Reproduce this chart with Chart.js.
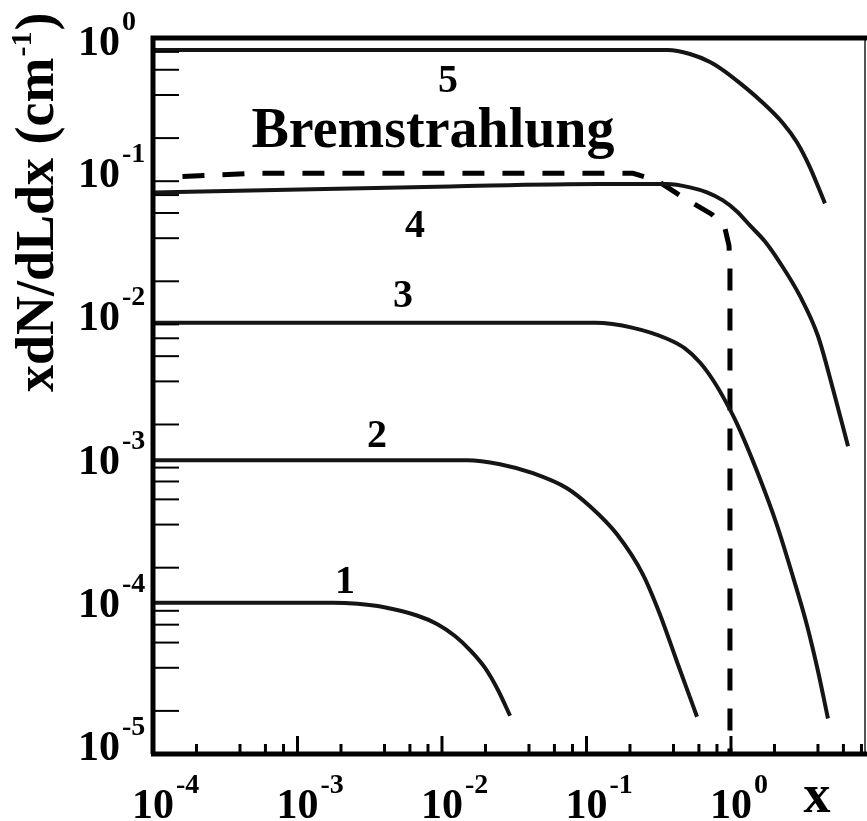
<!DOCTYPE html>
<html>
<head>
<meta charset="utf-8">
<script src="https://cdn.jsdelivr.net/npm/chart.js@4.4.0/dist/chart.umd.min.js"></script>
<style>
  html, body { margin: 0; padding: 0; background: #fff; }
</style>
</head>
<body>
<canvas id="graphics" width="867" height="821"></canvas>
<script>
// values (x, xdN/dLdx)
const curve1X = [1e-4, 1.76e-3, 2.6e-3, 3.91e-3, 6.71e-3, 9.23e-3, 0.0123, 0.01563, 0.01986, 0.0244, 0.0296];
const curve1Y = [1.14e-4, 1.14e-4, 1.12e-4, 1.063e-4, 9.27e-5, 8.09e-5, 6.67e-5, 5.32e-5, 3.99e-5, 2.80e-5, 1.85e-5];

const curve2X = [1e-4, 0.0149, 0.0252, 0.0426, 0.0733, 0.1057, 0.1626, 0.246, 0.323, 0.423, 0.582];
const curve2Y = [1.127e-3, 1.127e-3, 1.056e-3, 9.14e-4, 7.18e-4, 5.37e-4, 3.42e-4, 1.79e-4, 9.4e-5, 4.41e-5, 1.82e-5];

const curve3X = [1e-4, 0.1145, 0.210, 0.361, 0.48, 0.61, 0.739, 0.88, 1.10, 1.51, 2.08, 2.69, 3.36, 4.0, 4.69];
const curve3Y = [0.01026, 0.01026, 0.00946, 0.00794, 0.0068, 0.00542, 0.00419, 0.00313, 0.00203, 9.5e-4, 3.97e-4, 1.72e-4, 7.9e-5, 3.8e-5, 1.77e-5];

const curve4X = [1e-4, 1.04e-3, 0.01136, 0.124, 0.361, 0.520, 0.682, 0.880, 1.10, 1.353, 1.72, 2.18, 3.00, 4.0, 5.08, 6.46];
const curve4Y = [0.0835, 0.0876, 0.092, 0.0955, 0.0955, 0.0905, 0.0835, 0.0734, 0.0615, 0.0491, 0.0379, 0.027, 0.0158, 0.0083, 0.00354, 0.00141];

const curve5X = [1e-4, 0.366, 0.52, 0.716, 0.88, 1.154, 1.588, 2.29, 2.86, 3.52, 4.47];
const curve5Y = [0.824, 0.824, 0.773, 0.68, 0.597, 0.484, 0.368, 0.254, 0.187, 0.125, 0.070];

const bremsX = [1.6e-4, 5.1e-4, 0.210, 0.308, 0.466, 0.739, 0.909, 0.969, 0.984, 0.984];
const bremsY = [0.108, 0.1135, 0.1135, 0.101, 0.077, 0.0586, 0.0468, 0.0355, 0.025, 1e-5];

const curveNames = ['1', '2', '3', '4', '5'];
const xExponents = [-4, -3, -2, -1, 0];
const yExponents = [-5, -4, -3, -2, -1, 0];
const tickMantissas = [1, 2, 4, 6, 8];

const toPoints = (xs, ys) => xs.map((v, i) => ({ x: v, y: ys[i] }));

const solid = (label, xs, ys) => ({
    label: label,
    data: toPoints(xs, ys),
    borderColor: '#151515',
    borderWidth: 4,
    pointRadius: 0,
    cubicInterpolationMode: 'monotone',
    fill: false
});

const serif = '"Liberation Serif", "Times New Roman", serif';

const drawPow = (ctx, x, y, exp, align) => {
    ctx.font = 'bold 42px ' + serif;
    ctx.textBaseline = 'alphabetic';
    let right;
    if (align == 'right') {
        ctx.textAlign = 'right';
        ctx.fillText('10', x, y);
        right = x;
    } else {
        ctx.textAlign = 'center';
        ctx.fillText('10', x, y);
        right = x + ctx.measureText('10').width / 2;
    }
    ctx.font = 'bold 28px ' + serif;
    ctx.textAlign = 'left';
    ctx.fillText(exp == 0 ? '0' : '-' + Math.abs(exp), right + 2, y - 25);
};

const frame = {
    id: 'frame',
    afterDatasetsDraw(chart) {
        const { ctx, chartArea: a, scales } = chart;
        const x = scales.x, y = scales.y;
        ctx.save();
        ctx.strokeStyle = '#000';
        ctx.fillStyle = '#000';

        // inward ticks on the left axis
        ctx.lineWidth = 2;
        yExponents.forEach(e => tickMantissas.forEach(m => {
            const v = m * Math.pow(10, e);
            if (v < y.min || v > y.max) return;
            const py = y.getPixelForValue(v);
            ctx.beginPath();
            ctx.moveTo(a.left, py);
            ctx.lineTo(a.left + 26, py);
            ctx.stroke();
        }));

        // inward ticks on the bottom axis
        ctx.lineWidth = 3;
        xExponents.forEach(e => tickMantissas.forEach(m => {
            const v = m * Math.pow(10, e);
            if (v < x.min || v > x.max) return;
            const px = x.getPixelForValue(v);
            ctx.beginPath();
            ctx.moveTo(px, a.bottom);
            ctx.lineTo(px, a.bottom - (m == 1 ? 18 : 10));
            ctx.stroke();
        }));

        // frame
        ctx.lineWidth = 2;
        ctx.strokeStyle = '#555';
        ctx.beginPath();
        ctx.moveTo(a.right - 1, a.top);
        ctx.lineTo(a.right - 1, a.bottom);
        ctx.stroke();
        ctx.strokeStyle = '#000';
        ctx.lineWidth = 5;
        ctx.beginPath();
        ctx.moveTo(a.left, a.bottom);
        ctx.lineTo(a.left, a.top);
        ctx.lineTo(chart.width, a.top);
        ctx.moveTo(a.left - 2, a.bottom);
        ctx.lineTo(chart.width, a.bottom);
        ctx.stroke();

        // tick labels
        yExponents.forEach(e => drawPow(ctx, 120, Math.max(55, y.getPixelForValue(Math.pow(10, e)) + 6), e, 'right'));
        xExponents.forEach(e => drawPow(ctx, x.getPixelForValue(Math.pow(10, e)), 818, e, 'center'));

        // axis titles
        ctx.font = 'bold 54px ' + serif;
        ctx.textAlign = 'center';
        ctx.fillText('x', 817, 812);

        ctx.save();
        ctx.translate(53, 392);
        ctx.rotate(-Math.PI / 2);
        ctx.textAlign = 'left';
        ctx.font = 'bold 54px ' + serif;
        const t1 = 'xdN/dLdx (cm';
        ctx.fillText(t1, 0, 0);
        let off = ctx.measureText(t1).width;
        ctx.font = 'bold 30px ' + serif;
        ctx.fillText('-1', off + 1, -22);
        off += ctx.measureText('-1').width + 2;
        ctx.font = 'bold 54px ' + serif;
        ctx.fillText(')', off, 0);
        ctx.restore();

        // curve labels
        ctx.font = 'bold 40px ' + serif;
        ctx.textAlign = 'center';
        const labelPos = [[345, 593], [377, 447], [403, 307], [415, 237], [448, 92]];
        curveNames.forEach((n, i) => ctx.fillText(n, labelPos[i][0], labelPos[i][1]));
        ctx.font = 'bold 56px ' + serif;
        ctx.fillText('Bremstrahlung', 433, 147);

        ctx.restore();
    }
};

new Chart(document.getElementById('graphics'), {
    type: 'line',
    data: {
        datasets: [
            solid(curveNames[0], curve1X, curve1Y),
            solid(curveNames[1], curve2X, curve2Y),
            solid(curveNames[2], curve3X, curve3Y),
            solid(curveNames[3], curve4X, curve4Y),
            solid(curveNames[4], curve5X, curve5Y),
            {
                label: 'Bremstrahlung',
                data: toPoints(bremsX, bremsY),
                borderColor: '#000',
                borderWidth: 5,
                borderDash: [22, 18],
                pointRadius: 0,
                tension: 0,
                fill: false
            }
        ]
    },
    options: {
        responsive: false,
        animation: false,
        layout: { padding: { left: 153, top: 38, right: 1, bottom: 67 } },
        plugins: { legend: { display: false }, tooltip: { enabled: false } },
        scales: {
            x: { type: 'logarithmic', min: 1e-4, max: 8.6, display: false },
            y: { type: 'logarithmic', min: 1e-5, max: 1, display: false }
        }
    },
    plugins: [frame]
});
</script>
</body>
</html>
